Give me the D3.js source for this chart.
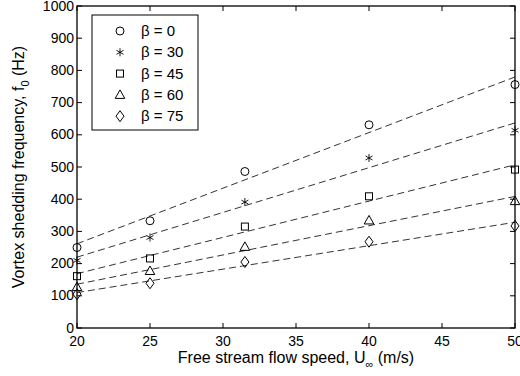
<!DOCTYPE html>
<html>
<head>
<meta charset="utf-8">
<script src="https://cdn.jsdelivr.net/npm/d3@7"></script>
<style>
  body { margin: 0; background: #fff; }
  svg { display: block; font-family: "Liberation Sans", Arial, sans-serif; }
</style>
</head>
<body>
<div id="chart"></div>
<script>
const speeds = [20, 25, 31.5, 40, 50];
const betas = [0, 30, 45, 60, 75];
const beta0 = [250, 333, 486, 631, 756];
const beta30 = [210, 281, 391, 528, 614];
const beta45 = [161, 216, 315, 409, 492];
const beta60 = [127, 177, 252, 334, 394];
const beta75 = [105, 139, 205, 268, 317];
const xTicks = [20, 25, 30, 35, 40, 45, 50];
const yTicks = [0, 100, 200, 300, 400, 500, 600, 700, 800, 900, 1000];

const series = [
  { beta: betas[0], vals: beta0, sym: "circle" },
  { beta: betas[1], vals: beta30, sym: "star" },
  { beta: betas[2], vals: beta45, sym: "square" },
  { beta: betas[3], vals: beta60, sym: "triangle" },
  { beta: betas[4], vals: beta75, sym: "diamond" }
];

const W = 520, H = 376;
const M = { top: 6, right: 5, bottom: 48, left: 77 };

const svg = d3.select("#chart").append("svg").attr("width", W).attr("height", H);

const x = d3.scaleLinear().domain([20, 50]).range([M.left, W - M.right]);
const y = d3.scaleLinear().domain([0, 1000]).range([H - M.bottom, M.top]);

// marker shapes
function marker(g, sym, cx, cy) {
  const s = g.append("g").attr("transform", `translate(${cx},${cy})`)
    .attr("fill", "none").attr("stroke", "#000").attr("stroke-width", 1);
  if (sym === "circle") s.append("circle").attr("r", 4);
  if (sym === "square") s.append("rect").attr("x", -3.5).attr("y", -3.5).attr("width", 7).attr("height", 7);
  if (sym === "triangle") s.append("path").attr("d", "M0,-5L4.8,3.5L-4.8,3.5Z");
  if (sym === "diamond") s.append("path").attr("d", "M0,-5.5L4,0L0,5.5L-4,0Z");
  if (sym === "star") {
    s.append("path").attr("d", "M0,-4V4M-3.5,-2L3.5,2M-3.5,2L3.5,-2")
      .attr("stroke-width", 0.9);
  }
}

// least-squares fit
function fit(vals) {
  const mx = d3.mean(speeds), my = d3.mean(vals);
  let sxy = 0, sxx = 0;
  speeds.forEach((s, i) => { sxy += (s - mx) * (vals[i] - my); sxx += (s - mx) * (s - mx); });
  const b = sxy / sxx;
  return v => my + b * (v - mx);
}

// fit lines
const lines = svg.append("g");
series.forEach(se => {
  const f = fit(se.vals);
  lines.append("line")
    .attr("x1", x(20)).attr("y1", y(f(20)))
    .attr("x2", x(50)).attr("y2", y(f(50)))
    .attr("stroke", "#000").attr("stroke-width", 0.8)
    .attr("stroke-dasharray", "7,4");
});

// points
const pts = svg.append("g");
series.forEach(se => {
  se.vals.forEach((v, i) => marker(pts, se.sym, x(speeds[i]), y(v)));
});

// axes box with inward ticks
const axes = svg.append("g").attr("font-size", 14).attr("fill", "#000");
axes.append("rect")
  .attr("x", M.left).attr("y", M.top)
  .attr("width", W - M.right - M.left).attr("height", H - M.bottom - M.top)
  .attr("fill", "none").attr("stroke", "#000").attr("stroke-width", 1.3);

xTicks.forEach(t => {
  axes.append("line").attr("x1", x(t)).attr("x2", x(t))
    .attr("y1", y(0)).attr("y2", y(0) - 5).attr("stroke", "#000");
  axes.append("line").attr("x1", x(t)).attr("x2", x(t))
    .attr("y1", y(1000)).attr("y2", y(1000) + 5).attr("stroke", "#000");
  axes.append("text").attr("x", x(t)).attr("y", y(0) + 18)
    .attr("text-anchor", "middle").text(t);
});

yTicks.forEach(t => {
  axes.append("line").attr("x1", x(20)).attr("x2", x(20) + 5)
    .attr("y1", y(t)).attr("y2", y(t)).attr("stroke", "#000");
  axes.append("line").attr("x1", x(50)).attr("x2", x(50) - 5)
    .attr("y1", y(t)).attr("y2", y(t)).attr("stroke", "#000");
  axes.append("text").attr("x", x(20) - 3).attr("y", y(t) + 4.5)
    .attr("text-anchor", "end").text(t);
});

// axis labels
const xl = svg.append("text").attr("x", (M.left + W - M.right) / 2).attr("y", 363)
  .attr("text-anchor", "middle").attr("font-size", 16);
xl.append("tspan").text("Free stream flow speed, U");
xl.append("tspan").attr("font-size", 11).attr("dy", 5).text("\u221E");
xl.append("tspan").attr("dy", -5).text(" (m/s)");

const yl = svg.append("text")
  .attr("transform", `translate(24,${(M.top + H - M.bottom) / 2}) rotate(-90)`)
  .attr("text-anchor", "middle").attr("font-size", 16);
yl.append("tspan").text("Vortex shedding frequency, f");
yl.append("tspan").attr("font-size", 11).attr("dy", 5).text("0");
yl.append("tspan").attr("dy", -5).text(" (Hz)");

// legend
const lg = svg.append("g");
lg.append("rect").attr("x", 92).attr("y", 15).attr("width", 106).attr("height", 115)
  .attr("fill", "#fff").attr("stroke", "#000").attr("stroke-width", 1);
series.forEach((se, i) => {
  const ly = 31 + i * 21.3;
  marker(lg, se.sym, 120, ly);
  lg.append("text").attr("x", 141).attr("y", ly + 5).attr("font-size", 15)
    .text(`\u03B2 = ${se.beta}`);
});
</script>
</body>
</html>
